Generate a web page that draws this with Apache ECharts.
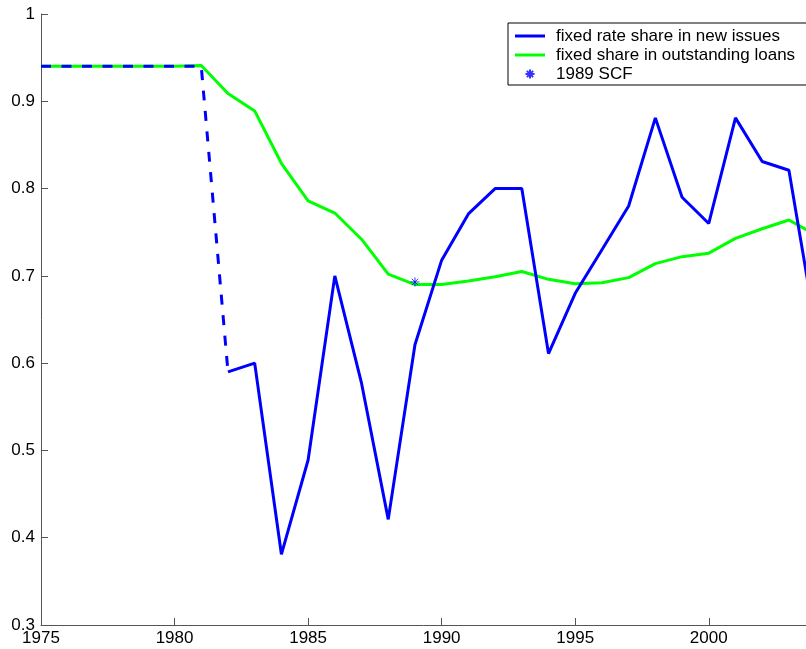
<!DOCTYPE html>
<html>
<head>
<meta charset="utf-8">
<script src="https://cdn.jsdelivr.net/npm/echarts@6/dist/echarts.min.js"></script>
<style>
  html, body { margin: 0; padding: 0; background: #fff; }
  #chart { width: 806px; height: 649px; }
</style>
</head>
<body>
<div id="chart"></div>
<script>
const years = [
  1975, 1976, 1977, 1978, 1979, 1980, 1981, 1982, 1983, 1984,
  1985, 1986, 1987, 1988, 1989, 1990, 1991, 1992, 1993, 1994,
  1995, 1996, 1997, 1998, 1999, 2000, 2001, 2002, 2003, 2004,
];

// fixed rate share in new issues (1975-1982 part is drawn dashed)
const newIssues = [
  0.94, 0.94, 0.94, 0.94, 0.94, 0.94, 0.94, 0.59, 0.60, 0.381,
  0.489, 0.70, 0.577, 0.421, 0.621, 0.718, 0.771, 0.80, 0.80, 0.611,
  0.68, 0.73, 0.78, 0.881, 0.79, 0.76, 0.881, 0.831, 0.821, 0.64,
];

// fixed share in outstanding loans
const outstanding = [
  0.94, 0.94, 0.94, 0.94, 0.94, 0.94, 0.941, 0.909, 0.889, 0.829,
  0.786, 0.772, 0.742, 0.702, 0.690, 0.690, 0.694, 0.699, 0.705, 0.696,
  0.691, 0.692, 0.698, 0.714, 0.722, 0.726, 0.743, 0.754, 0.764, 0.747,
];

const scfPoint = [1989, 0.693];

const dashedEnd = 1982;

// the original figure is cut off on the right a bit before 2004
const xMin = 1975;
const xMax = 2003.64;

const blueName = "fixed rate share in new issues";
const greenName = "fixed share in outstanding loans";
const scfName = "1989 SCF";

const dashedPart = years
  .map((y, i) => [y, newIssues[i]])
  .filter((p) => p[0] <= dashedEnd);
const solidPart = years
  .map((y, i) => [y, newIssues[i]])
  .filter((p) => p[0] >= dashedEnd);
const greenData = years.map((y, i) => [y, outstanding[i]]);

const chart = echarts.init(document.getElementById("chart"));

const font = "Liberation Sans";
const lineIcon = "path://M0,0H30V3H0Z";
const starIcon = "path://M0,5L10,5M5,0L5,10M1.5,1.5L8.5,8.5M1.5,8.5L8.5,1.5";

const option = {
  animation: false,
  grid: {
    left: 41,
    right: 0,
    top: 14,
    bottom: 24,
    containLabel: false,
  },
  legend: {
    orient: "vertical",
    left: 508,
    top: 23,
    padding: [4.5, 13, 2.5, 7],
    itemGap: 2,
    itemWidth: 30,
    itemHeight: 9,
    borderColor: "#000",
    borderWidth: 1,
    borderRadius: 0,
    backgroundColor: "#fff",
    textStyle: {
      fontFamily: font,
      fontSize: 17,
      color: "#000",
      padding: [0, 0, 0, 6],
    },
    data: [
      { name: blueName, icon: lineIcon },
      { name: greenName, icon: lineIcon },
      { name: scfName, icon: starIcon },
    ],
  },
  xAxis: {
    type: "value",
    min: xMin,
    max: xMax,
    interval: 5,
    axisLine: { lineStyle: { color: "#555", width: 1 } },
    axisTick: { inside: true, length: 7, lineStyle: { color: "#555" } },
    splitLine: { show: false },
    axisLabel: {
      fontFamily: font,
      fontSize: 17,
      color: "#000",
      margin: 5,
      showMaxLabel: false,
      formatter: (v) => String(v),
    },
  },
  yAxis: {
    type: "value",
    min: 0.3,
    max: 1,
    interval: 0.1,
    axisLine: { show: true, lineStyle: { color: "#555", width: 1 } },
    axisTick: { show: true, inside: true, length: 7, lineStyle: { color: "#555" } },
    splitLine: { show: false },
    axisLabel: {
      fontFamily: font,
      fontSize: 17,
      color: "#000",
      margin: 6,
      formatter: (v) => String(Math.round(v * 10) / 10),
    },
  },
  series: [
    {
      name: greenName,
      type: "line",
      data: greenData,
      symbol: "none",
      z: 2,
      lineStyle: { color: "#00ff00", width: 3 },
      itemStyle: { color: "#00ff00" },
    },
    {
      name: blueName,
      type: "line",
      data: solidPart,
      symbol: "none",
      z: 3,
      lineStyle: { color: "#0000ff", width: 3 },
      itemStyle: { color: "#0000ff" },
    },
    {
      name: blueName,
      type: "line",
      data: dashedPart,
      symbol: "none",
      z: 3,
      lineStyle: { color: "#0000ff", width: 3, type: [10, 10.5] },
      itemStyle: { color: "#0000ff" },
    },
    {
      name: scfName,
      type: "scatter",
      data: [scfPoint],
      z: 4,
      symbol: starIcon,
      symbolSize: 9,
      itemStyle: { color: "none", borderColor: "#0000ff", borderWidth: 1 },
    },
  ],
};

chart.setOption(option);
</script>
</body>
</html>
